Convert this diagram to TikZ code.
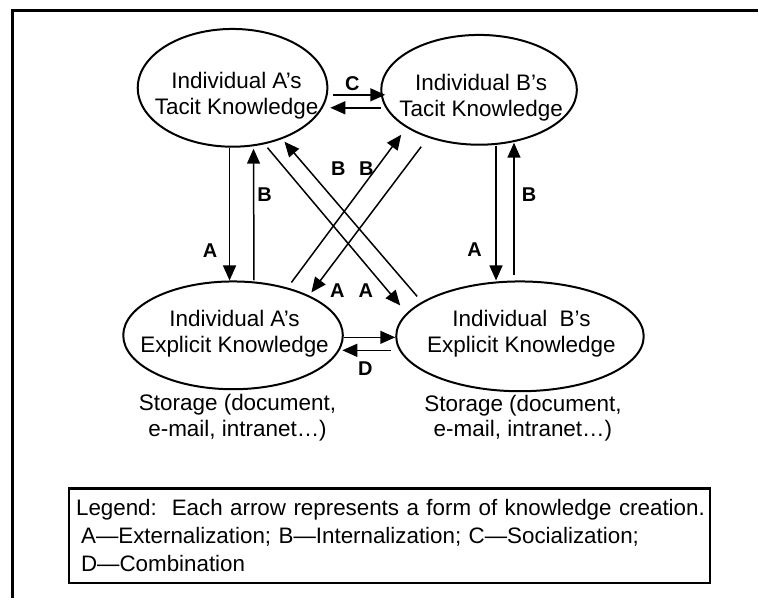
\documentclass[tikz,border=0pt]{standalone}
\usepackage{fontspec}
\setmainfont{Liberation Sans}
\usetikzlibrary{arrows.meta,positioning,shapes.geometric}

\begin{document}
\begin{tikzpicture}[
  x=1pt,y=-1pt,
  know/.style={draw,ellipse,line width=2pt,inner sep=0pt},
  ktext/.style={align=center,inner sep=0pt,font=\fontsize{22.5}{26}\selectfont},
  store/.style={align=center,inner sep=0pt,font=\fontsize{22.5}{25.5}\selectfont},
  tag/.style={inner sep=0pt,font=\fontsize{20}{20}\selectfont\bfseries},
  arr/.style={-{Triangle[length=15pt,width=13pt]},line width=1.5pt},
  legend/.style={draw,line width=2.5pt,align=left,inner xsep=7pt,inner ysep=0pt,text width=628pt,minimum height=95pt,anchor=north west,font=\fontsize{22.4}{28}\selectfont}
]
\fill[white] (0,0) rectangle (759,599);
\draw[line width=3pt] (12.5,599) -- (12.5,10.5) -- (759,10.5);
\node[know,minimum width=190pt,minimum height=118pt] (at) at (233,88) {};
\node[know,minimum width=196pt,minimum height=110pt] (bt) at (480,90) {};
\node[know,minimum width=220pt,minimum height=108pt] (ae) at (233.5,336) {};
\node[know,minimum width=248pt,minimum height=110pt] (be) at (521,337) {};
\node[ktext] (att) at ([xshift=4pt,yshift=-7.5pt]at.center) {Individual A's\\Tacit Knowledge};
\node[ktext] (btt) at ([xshift=2pt,yshift=-8pt]bt.center) {Individual B's\\Tacit Knowledge};
\node[ktext] (aet) at ([xshift=1.5pt,yshift=2pt]ae.center) {Individual A's\\Explicit Knowledge};
\node[ktext] (bet) at ([xshift=1.5pt,yshift=2.7pt]be.center) {Individual~~B's\\Explicit Knowledge};
\node[store,below=4pt of ae,xshift=4.5pt] (aes) {Storage (document,\\e-mail, intranet…)};
\node[store,below=2.5pt of be,xshift=3pt] (bes) {Storage (document,\\e-mail, intranet…)};
\draw[arr] ([xshift=-3pt]at.south) -- ([xshift=-3.5pt]ae.north);
\draw[arr] ([xshift=21pt]ae.north) -- ([xshift=21pt,yshift=-1pt]at.south);
\draw[arr] ([xshift=17pt]bt.south) -- ([xshift=-24pt]be.north);
\draw[arr] ([xshift=-6pt,yshift=5pt]be.north) -- ([xshift=35pt,yshift=3pt]bt.south);
\draw[arr] ([xshift=5pt,yshift=-7pt]at.east) -- ([xshift=5pt,yshift=-5pt]bt.west);
\draw[arr] ([xshift=1pt,yshift=-18pt]bt.west) -- ([xshift=2pt,yshift=-20pt]at.east);
\draw[arr] ([yshift=-2pt]ae.east) -- ([yshift=-1pt]be.west);
\draw[arr] ([xshift=-4pt,yshift=-14pt]be.west) -- ([xshift=-1.5pt,yshift=-15pt]ae.east);
\draw[arr] ([xshift=35pt,yshift=-60pt]at.center) -- ([xshift=-120pt,yshift=31pt]be.center);
\draw[arr] ([xshift=-103pt,yshift=40pt]be.center) -- ([xshift=52pt,yshift=-54pt]at.center);
\draw[arr] ([xshift=-58pt,yshift=-57pt]bt.center) -- ([xshift=78.5pt,yshift=43pt]ae.center);
\draw[arr] ([xshift=58.5pt,yshift=53pt]ae.center) -- ([xshift=-78pt,yshift=-45pt]bt.center);
\node[tag] (ta1) at (210.5,251.5) {A};
\node[tag] (tb1) at (265,195.5) {B};
\node[tag] (ta2) at (475.5,250.5) {A};
\node[tag] (tb2) at (530,195.5) {B};
\node[tag] (tc) at (353,84) {C};
\node[tag] (td) at (366,369) {D};
\node[tag] (tb3) at (339,169) {B};
\node[tag] (tb4) at (367,169) {B};
\node[tag] (ta3) at (338,291) {A};
\node[tag] (ta4) at (366.5,291) {A};
\node[legend] (key) at (68,488) {\mbox{Legend:\ \ Each arrow represents a form of knowledge creation.}\\
\hspace*{5pt}A—Externalization; B—Internalization; C—Socialization;\\
\hspace*{5pt}D—Combination};
\end{tikzpicture}
\end{document}
